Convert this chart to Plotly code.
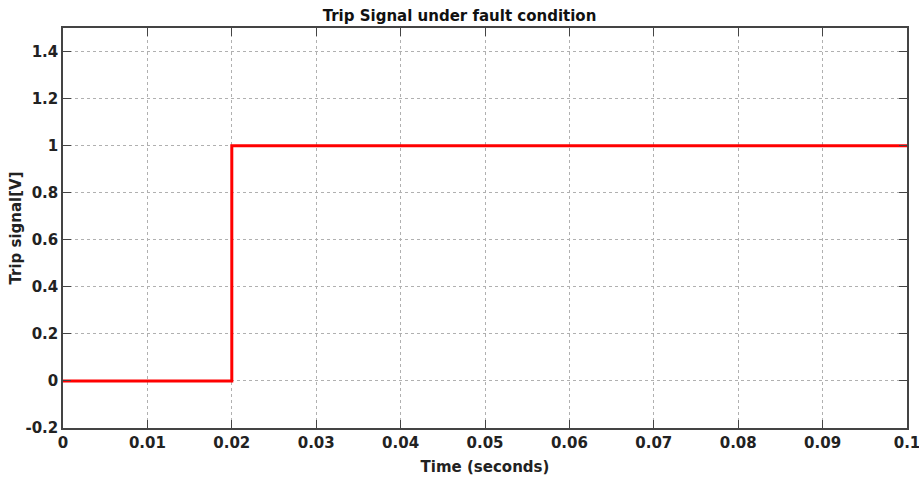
import plotly.graph_objects as go

time_s = [0.0, 0.02, 0.02, 0.1]
trip_v = [0.0, 0.0, 1.0, 1.0]
x_ticks = [0, 0.01, 0.02, 0.03, 0.04, 0.05, 0.06, 0.07, 0.08, 0.09, 0.1]
x_tick_labels = ["0", "0.01", "0.02", "0.03", "0.04", "0.05", "0.06", "0.07", "0.08", "0.09", "0.1"]
y_ticks = [-0.2, 0, 0.2, 0.4, 0.6, 0.8, 1, 1.2, 1.4]
y_tick_labels = ["-0.2", "0", "0.2", "0.4", "0.6", "0.8", "1", "1.2", "1.4"]

font = "DejaVu Sans"
fig = go.Figure()
fig.add_trace(go.Scatter(x=time_s, y=trip_v, mode="lines",
                         line=dict(color="#ff0000", width=3), showlegend=False, cliponaxis=False))

axis_common = dict(showline=True, linecolor="#444", linewidth=1.5, mirror="allticks",
                   ticks="inside", ticklen=8, tickcolor="#444", tickwidth=1,
                   showgrid=True, gridcolor="#b0b0b0", griddash="dot", gridwidth=1,
                   zeroline=False, automargin=False, ticklabeloverflow="allow",
                   tickfont=dict(family=font, size=15, color="#222", weight="bold"))

fig.update_xaxes(range=[0, 0.1000001], tickvals=x_ticks, ticktext=x_tick_labels,
                 title=dict(text="<b>Time (seconds)</b>", font=dict(family=font, size=15, color="#222"), standoff=11),
                 **axis_common)
fig.update_yaxes(range=[-0.2, 1.5], tickvals=y_ticks, ticktext=y_tick_labels,
                 title=dict(text="<b>Trip signal[V]</b>", font=dict(family=font, size=15, color="#222"), standoff=0),
                 **axis_common)

fig.update_layout(
    width=919, height=478,
    margin=dict(l=63, r=12, t=28, b=50),
    paper_bgcolor="white", plot_bgcolor="white",
    title=dict(text="<b>Trip Signal under fault condition</b>", x=0.5, xanchor="center",
               y=0.968, yanchor="middle", font=dict(family=font, size=15, color="#111")),
)
fig.write_html("out.html", config={"displayModeBar": False},
               post_script="document.body.style.margin='0';document.body.style.overflow='hidden';")
